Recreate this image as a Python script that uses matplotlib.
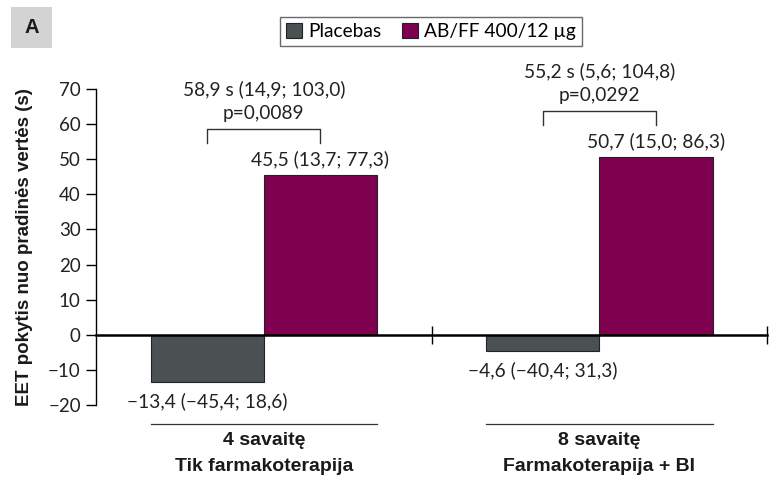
import numpy as np
import matplotlib
matplotlib.use("Agg")
import matplotlib.pyplot as plt
from matplotlib.patches import Rectangle

plt.rcParams['font.family'] = ['Lato', 'DejaVu Sans']
BOLD = ['Liberation Sans', 'DejaVu Sans']

# data
groups = ['4 savaitę\nTik farmakoterapija', '8 savaitę\nFarmakoterapija + BI']
placebo = [-13.4, -4.6]
abff = [45.5, 50.7]
placebo_lbl = ['\u221213,4 (\u221245,4; 18,6)', '\u22124,6 (\u221240,4; 31,3)']
abff_lbl = ['45,5 (13,7; 77,3)', '50,7 (15,0; 86,3)']
diff_lbl = ['58,9 s (14,9; 103,0)', '55,2 s (5,6; 104,8)']
p_lbl = ['p=0,0089', 'p=0,0292']
yticks = [-20, -10, 0, 10, 20, 30, 40, 50, 60, 70]

c_plac = '#4b5052'
c_ab = '#7f004f'

fig = plt.figure(figsize=(7.77, 4.79), dpi=100)
ax = fig.add_axes([0.1236, 0.1545, 0.8636, 0.6597])

x = np.arange(len(groups))
w = 0.3375
ax.bar(x - w/2, placebo, w, color=c_plac, edgecolor='#222222', linewidth=0.8, label='Placebas', zorder=2)
ax.bar(x + w/2, abff, w, color=c_ab, edgecolor='#222222', linewidth=0.8, label='AB/FF 400/12 µg', zorder=2)

ax.set_xlim(-0.5, 1.5)
ax.set_ylim(-20, 70)
ax.set_yticks(yticks)
ax.set_yticklabels([str(t).replace('-', '\u2212') for t in yticks], fontsize=13.5, color='#222222')
ax.tick_params(axis='y', direction='out', length=7, width=1, pad=4)

for s in ['top', 'right']:
    ax.spines[s].set_visible(False)
ax.spines['left'].set_linewidth(1)
ax.spines['bottom'].set_position(('data', 0))
ax.spines['bottom'].set_linewidth(1.8)
ax.spines['bottom'].set_zorder(3)
ax.set_xticks([0.5, 1.5])
ax.set_xticklabels([])
ax.tick_params(axis='x', direction='inout', length=13, width=1)

fs = 13.8
for i in range(len(groups)):
    xp = x[i] - w/2
    xa = x[i] + w/2
    ax.text(xa, abff[i] + 4.5, abff_lbl[i], ha='center', va='center', fontsize=fs, color='#222222')
    ax.text(xp, placebo[i] - 5.6, placebo_lbl[i], ha='center', va='center', fontsize=fs, color='#222222')
    top = abff[i] + 13
    ax.plot([xp, xp, xa, xa], [top - 4, top, top, top - 4], color='#333333', lw=1, clip_on=False)
    ax.text(x[i], abff[i] + 17.5, p_lbl[i], ha='center', va='center', fontsize=fs, color='#222222', clip_on=False)
    ax.text(x[i], abff[i] + 24.5, diff_lbl[i], ha='center', va='center', fontsize=fs, color='#222222', clip_on=False)
    tr = ax.get_xaxis_transform()
    ax.plot([x[i] - w, x[i] + w], [-0.06, -0.06], color='#333333', lw=0.9, transform=tr, clip_on=False)
    lines = groups[i].split('\n')
    ax.text(x[i], -0.111, lines[0], ha='center', va='center', fontsize=14, fontweight='bold',
            family=BOLD, transform=tr, color='#1a1a1a')
    ax.text(x[i], -0.196, lines[1], ha='center', va='center', fontsize=14, fontweight='bold',
            family=BOLD, transform=tr, color='#1a1a1a')

fig.text(25/777, 0.484, 'EET pokytis nuo pradinės vertės (s)', rotation=90, ha='center', va='center',
         fontsize=13.5, fontweight='bold', family=BOLD, color='#1a1a1a')

leg = fig.legend(loc='upper center', bbox_to_anchor=(0.5547, 0.985), ncol=2, fontsize=13.8,
                 frameon=True, fancybox=False, edgecolor='#444444', handlelength=0.85, handleheight=0.85,
                 handletextpad=0.3, columnspacing=1.1, borderpad=0.3)
leg.get_frame().set_linewidth(1)

fig.patches.append(Rectangle((11/777, 1 - 48/479), 41/777, 41/479, transform=fig.transFigure,
                             facecolor='#d3d3d3', edgecolor='none'))
fig.text(31.5/777, 1 - 27.5/479, 'A', ha='center', va='center', fontsize=14.5, fontweight='bold',
         family=BOLD, color='#1a1a1a')

fig.savefig('out.png', dpi=100)
